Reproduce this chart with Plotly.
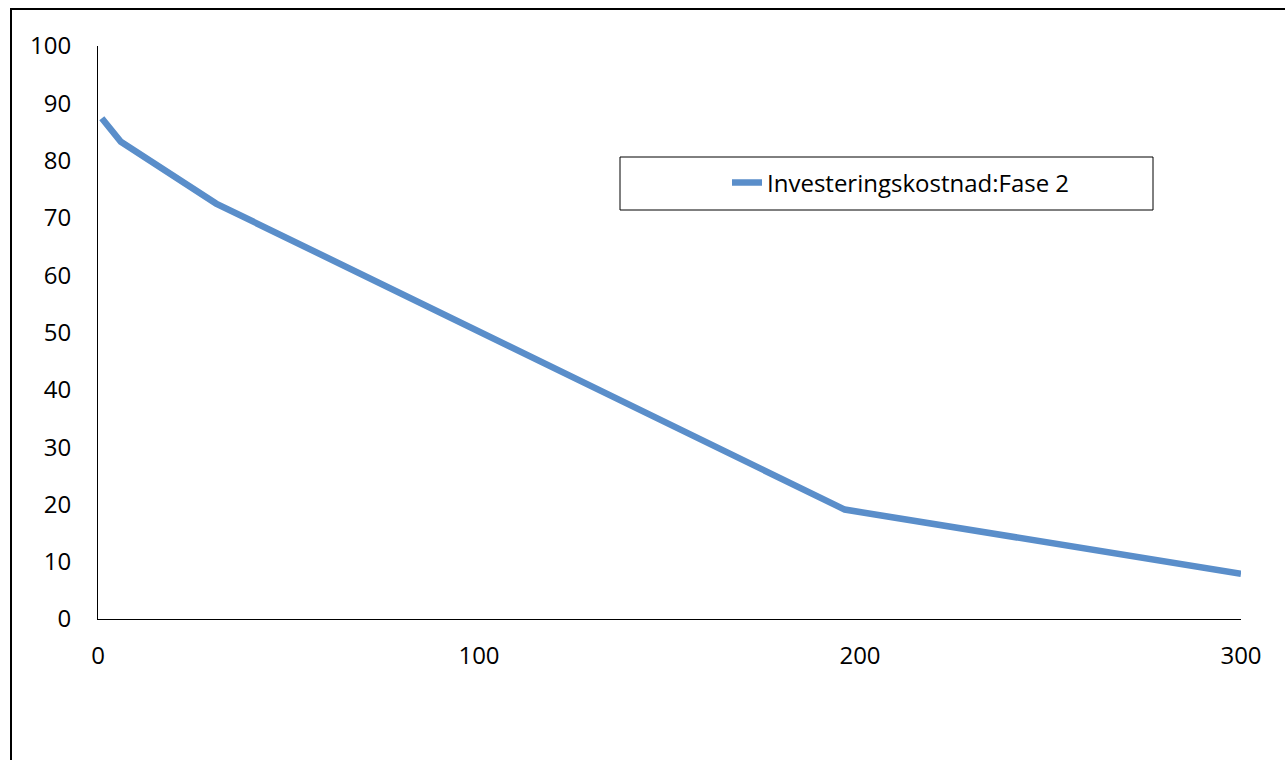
import plotly.graph_objects as go

# Data
x_vals = [1, 6, 31, 196, 300]
y_vals = [87.4, 83.3, 72.5, 19.1, 7.9]
series_name = "Investeringskostnad:Fase 2"
x_ticks = [0, 100, 200, 300]
y_ticks = [0, 10, 20, 30, 40, 50, 60, 70, 80, 90, 100]

W, H = 1285, 760
L, R, T, B = 98, 44, 46, 141
pw, ph = W - L - R, H - T - B

def px_x(p):
    return (p - L) / pw

def px_y(p):
    return (H - B - p) / ph

FONT = "Open Sans"
FS = 24
fig = go.Figure()
fig.add_trace(go.Scatter(
    x=x_vals, y=y_vals, mode="lines", name=series_name,
    line=dict(color="#5A8ECA", width=6.5),
    showlegend=True, hoverinfo="skip",
))

fig.update_layout(
    width=W, height=H,
    margin=dict(l=L, r=R, t=T, b=B),
    paper_bgcolor="white", plot_bgcolor="white",
    font=dict(family=FONT, size=FS, color="black"),
    showlegend=True,
    legend=dict(
        x=px_x(727), y=px_y(183), xanchor="left", yanchor="middle",
        bgcolor="rgba(0,0,0,0)", borderwidth=0,
        font=dict(family=FONT, size=FS, color="black"),
    ),
    xaxis=dict(
        range=[0, 300], tickvals=x_ticks, showgrid=False, zeroline=False,
        showline=True, linecolor="black", linewidth=1,
        ticks="", ticklabelstandoff=15, fixedrange=True,
    ),
    yaxis=dict(
        range=[0, 100], tickvals=y_ticks, showgrid=False, zeroline=False,
        showline=True, linecolor="black", linewidth=1,
        ticks="", ticklabelstandoff=21, fixedrange=True,
    ),
    shapes=[
        # outer chart border (left and top visible)
        dict(type="rect", xref="paper", yref="paper",
             x0=px_x(11), x1=px_x(W + 20), y0=px_y(H + 20), y1=px_y(9),
             line=dict(color="black", width=2), fillcolor="rgba(0,0,0,0)",
             layer="below"),
        # legend box
        dict(type="rect", xref="paper", yref="paper",
             x0=px_x(620), x1=px_x(1153), y0=px_y(210), y1=px_y(157),
             line=dict(color="black", width=1), fillcolor="rgba(0,0,0,0)"),
    ],
)

fig.write_html("out.html")
